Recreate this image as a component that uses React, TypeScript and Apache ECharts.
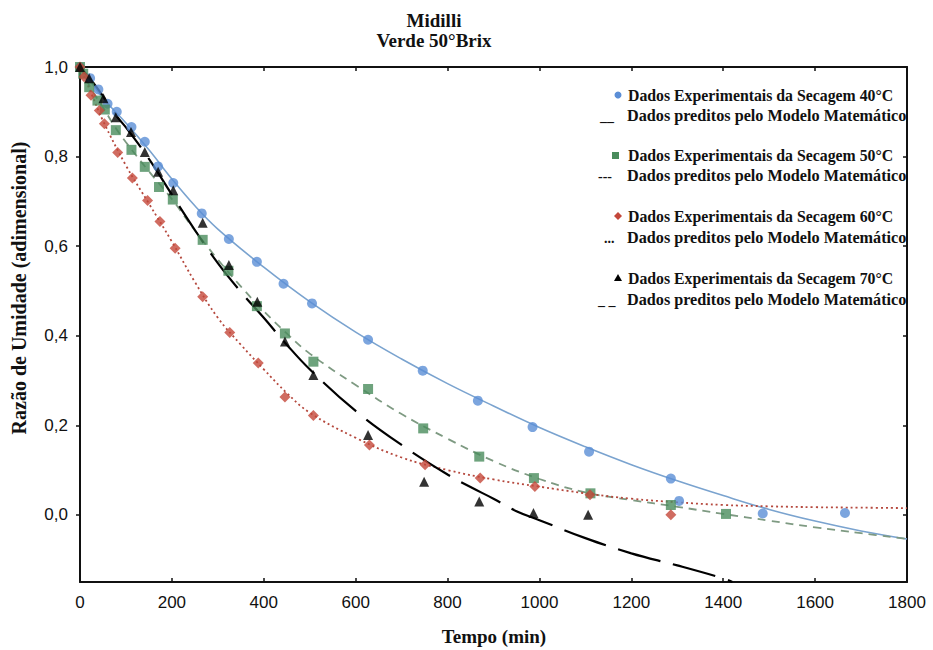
import React, { useEffect, useRef } from "react";
import * as echarts from "echarts";

const t40 = [0, 22, 40, 60, 80, 112, 141, 170, 203, 265, 324, 385, 443, 505, 627, 746, 866, 985, 1108, 1286, 1304, 1486, 1665];
const mr40 = [1.0, 0.975, 0.95, 0.918, 0.9, 0.866, 0.833, 0.778, 0.741, 0.673, 0.616, 0.565, 0.516, 0.472, 0.391, 0.322, 0.255, 0.196, 0.141, 0.081, 0.031, 0.003, 0.004];

const t50 = [0, 7, 20, 38, 54, 78, 112, 141, 172, 202, 267, 323, 385, 446, 508, 627, 747, 869, 988, 1111, 1286, 1406];
const mr50 = [1.0, 0.985, 0.955, 0.925, 0.905, 0.859, 0.815, 0.777, 0.732, 0.704, 0.614, 0.545, 0.466, 0.405, 0.342, 0.281, 0.193, 0.13, 0.082, 0.048, 0.022, 0.002];

const t60 = [0, 9, 24, 42, 53, 82, 114, 147, 174, 207, 267, 326, 388, 446, 508, 630, 751, 871, 990, 1110, 1286];
const mr60 = [1.0, 0.978, 0.937, 0.903, 0.873, 0.809, 0.752, 0.702, 0.655, 0.595, 0.487, 0.407, 0.339, 0.263, 0.222, 0.156, 0.112, 0.082, 0.063, 0.045, 0.0];

const t70 = [0, 20, 51, 78, 111, 141, 170, 203, 267, 324, 386, 446, 508, 627, 749, 869, 987, 1106];
const mr70 = [1.0, 0.975, 0.93, 0.888, 0.855, 0.81, 0.766, 0.725, 0.652, 0.558, 0.476, 0.387, 0.312, 0.178, 0.074, 0.03, 0.004, 0.0];

// ---- Model curves ----
const ft40 = [0, 25, 50, 100, 150, 200, 250, 300, 400, 500, 600, 700, 800, 900, 1000, 1100, 1200, 1300, 1400, 1500, 1600, 1700, 1800];
const fy40 = [1.0, 0.965, 0.93, 0.875, 0.815, 0.75, 0.69, 0.638, 0.553, 0.476, 0.408, 0.348, 0.293, 0.243, 0.195, 0.152, 0.112, 0.076, 0.043, 0.012, -0.014, -0.036, -0.054];

const ft50 = [0, 25, 50, 75, 100, 150, 200, 250, 300, 350, 400, 450, 500, 600, 700, 800, 900, 1000, 1100, 1200, 1300, 1400, 1500, 1600, 1700, 1800];
const fy50 = [1.0, 0.95, 0.91, 0.868, 0.832, 0.767, 0.705, 0.635, 0.57, 0.51, 0.455, 0.405, 0.36, 0.29, 0.225, 0.17, 0.12, 0.08, 0.05, 0.033, 0.018, 0.002, -0.013, -0.028, -0.041, -0.054];

const ft60 = [0, 25, 50, 100, 150, 200, 250, 300, 350, 400, 450, 500, 600, 700, 800, 900, 1000, 1100, 1200, 1300, 1400, 1500, 1600, 1700, 1800];
const fy60 = [1.0, 0.94, 0.88, 0.78, 0.695, 0.61, 0.52, 0.44, 0.38, 0.325, 0.272, 0.228, 0.172, 0.128, 0.1, 0.079, 0.063, 0.048, 0.036, 0.028, 0.022, 0.019, 0.017, 0.016, 0.015];

const ft70 = [0, 25, 50, 80, 100, 150, 200, 250, 300, 350, 400, 450, 500, 600, 700, 800, 850, 900, 950, 1000, 1100, 1200, 1300, 1400, 1420];
const fy70 = [1.0, 0.97, 0.935, 0.89, 0.865, 0.795, 0.715, 0.636, 0.562, 0.498, 0.44, 0.38, 0.325, 0.232, 0.156, 0.09, 0.062, 0.036, 0.008, -0.012, -0.052, -0.086, -0.113, -0.142, -0.15];

const yTicks = [0, 0.2, 0.4, 0.6, 0.8, 1.0];

const legendExp = [
  "Dados Experimentais da Secagem 40°C",
  "Dados Experimentais da Secagem 50°C",
  "Dados Experimentais da Secagem 60°C",
  "Dados Experimentais da Secagem 70°C",
];
const legendFit = "Dados preditos pelo Modelo Matemático";
const legendLineGlyphs = ["__", "---", "...", "_ _"];

const zip = (a: number[], b: number[]) => a.map((v, i) => [v, b[i]]);

const SERIF = "'Liberation Serif', 'Times New Roman', serif";
const SANS = "'Liberation Sans', Arial, sans-serif";

const C40 = "#5b8ed6";
const C40L = "#7aa3cf";
const C50 = "#4a8c5c";
const C50L = "#7e9a82";
const C60 = "#c4473a";
const C60L = "#b5483d";
const C70 = "#000000";

export default function App() {
  const ref = useRef<HTMLDivElement>(null);
  useEffect(() => {
    if (!ref.current) return;
    const chart = echarts.init(ref.current, null, { renderer: "svg" });

    const legendTexts: any[] = [];
    const expY = [95, 155, 216, 278];
    const fitY = [116, 176, 238, 300];
    const glyphX = [600, 598, 604, 598];
    for (let i = 0; i < 4; i++) {
      legendTexts.push({
        type: "text",
        x: 628,
        y: expY[i],
        style: { text: legendExp[i], font: `bold 15.8px ${SERIF}`, fill: "#111", verticalAlign: "middle" },
      });
      legendTexts.push({
        type: "text",
        x: 627,
        y: fitY[i],
        style: { text: legendFit, font: `bold 16.2px ${SERIF}`, fill: "#111", verticalAlign: "middle" },
      });
      legendTexts.push({
        type: "text",
        x: glyphX[i],
        y: fitY[i],
        style: { text: legendLineGlyphs[i], font: `bold 14px ${SERIF}`, fill: "#111", verticalAlign: "middle" },
      });
    }

    const option: any = {
      animation: false,
      backgroundColor: "#ffffff",
      grid: {
        left: 80,
        right: 26,
        top: 67,
        bottom: 68,
        containLabel: false,
        outerBoundsMode: "none",
      },
      xAxis: [
        {
          type: "value",
          min: 0,
          max: 1800,
          interval: 200,
          axisLine: { show: true, onZero: false, lineStyle: { color: "#111", width: 2 } },
          axisTick: { show: true, inside: true, length: 4, lineStyle: { color: "#111", width: 1.5 } },
          axisLabel: { color: "#111", fontSize: 17, fontFamily: SANS, margin: 12, formatter: (v: number) => String(v) },
          splitLine: { show: false },
        },
        {
          type: "value",
          position: "top",
          min: 0,
          max: 1800,
          interval: 200,
          axisLine: { show: true, onZero: false, lineStyle: { color: "#111", width: 2 } },
          axisTick: { show: true, inside: true, length: 4, lineStyle: { color: "#111", width: 1.5 } },
          axisLabel: { show: false },
          splitLine: { show: false },
        },
      ],
      yAxis: [
        {
          type: "value",
          min: -0.15,
          max: 1.0,
          axisLine: { show: true, onZero: false, lineStyle: { color: "#111", width: 2 } },
          axisTick: { show: true, inside: false, length: 4, customValues: yTicks, lineStyle: { color: "#111", width: 1.5 } },
          axisLabel: {
            color: "#111",
            fontSize: 17,
            fontFamily: SANS,
            margin: 12,
            customValues: yTicks,
            formatter: (v: number) => v.toFixed(1).replace(".", ","),
          },
          splitLine: { show: false },
        },
        {
          type: "value",
          position: "right",
          min: -0.15,
          max: 1.0,
          axisLine: { show: true, onZero: false, lineStyle: { color: "#111", width: 2 } },
          axisTick: { show: true, inside: true, length: 4, customValues: yTicks, lineStyle: { color: "#111", width: 1.5 } },
          axisLabel: { show: false, customValues: yTicks },
          splitLine: { show: false },
        },
      ],
      series: [
        {
          name: "Modelo 40",
          type: "line",
          data: zip(ft40, fy40),
          smooth: 0.4,
          showSymbol: false,
          lineStyle: { color: C40L, width: 1.6 },
          z: 2,
        },
        {
          name: "Modelo 50",
          type: "line",
          data: zip(ft50, fy50),
          smooth: 0.4,
          showSymbol: false,
          lineStyle: { color: C50L, width: 1.8, type: [8, 6] },
          z: 2,
        },
        {
          name: "Modelo 60",
          type: "line",
          data: zip(ft60, fy60),
          smooth: 0.4,
          showSymbol: false,
          lineStyle: { color: C60L, width: 1.8, type: [2, 3] },
          z: 2,
        },
        {
          name: "Modelo 70",
          type: "line",
          data: zip(ft70, fy70),
          smooth: 0.4,
          showSymbol: false,
          lineStyle: { color: C70, width: 2.2, type: [44, 13] },
          z: 2,
        },
        {
          name: legendExp[0],
          type: "scatter",
          data: zip(t40, mr40),
          symbol: "circle",
          symbolSize: 10,
          itemStyle: { color: C40 },
          z: 3,
        },
        {
          name: legendExp[1],
          type: "scatter",
          data: zip(t50, mr50),
          symbol: "rect",
          symbolSize: 10,
          itemStyle: { color: C50 },
          z: 3,
        },
        {
          name: legendExp[2],
          type: "scatter",
          data: zip(t60, mr60),
          symbol: "diamond",
          symbolSize: 11,
          itemStyle: { color: C60 },
          z: 3,
        },
        {
          name: legendExp[3],
          type: "scatter",
          data: zip(t70, mr70),
          symbol: "triangle",
          symbolSize: 10,
          itemStyle: { color: C70 },
          z: 4,
        },
      ],
      graphic: [
        {
          type: "text",
          x: 434,
          y: 20,
          style: { text: "Midilli", font: `bold 19px ${SERIF}`, fill: "#111", align: "center", verticalAlign: "middle" },
        },
        {
          type: "text",
          x: 434,
          y: 40,
          style: { text: "Verde 50°Brix", font: `bold 19px ${SERIF}`, fill: "#111", align: "center", verticalAlign: "middle" },
        },
        {
          type: "text",
          x: 494,
          y: 636,
          style: { text: "Tempo (min)", font: `bold 19px ${SERIF}`, fill: "#111", align: "center", verticalAlign: "middle" },
        },
        {
          type: "text",
          x: 19,
          y: 288,
          rotation: Math.PI / 2,
          style: {
            text: "Razão de Umidade (adimensional)",
            font: `bold 20px ${SERIF}`,
            fill: "#111",
            align: "center",
            verticalAlign: "middle",
          },
        },
        { type: "circle", shape: { cx: 618, cy: 95, r: 3.5 }, style: { fill: C40 } },
        { type: "rect", shape: { x: 612, y: 152, width: 7, height: 7 }, style: { fill: C50 } },
        { type: "polygon", shape: { points: [[618, 212], [622, 216], [618, 220], [614, 216]] }, style: { fill: C60 } },
        { type: "polygon", shape: { points: [[618, 274], [622, 281], [614, 281]] }, style: { fill: C70 } },
        ...legendTexts,
      ],
    };

    chart.setOption(option);
    return () => chart.dispose();
  }, []);

  return (
    <div
      ref={ref}
      style={{ position: "absolute", left: 0, top: 0, width: 933, height: 650, background: "#fff" }}
    />
  );
}
